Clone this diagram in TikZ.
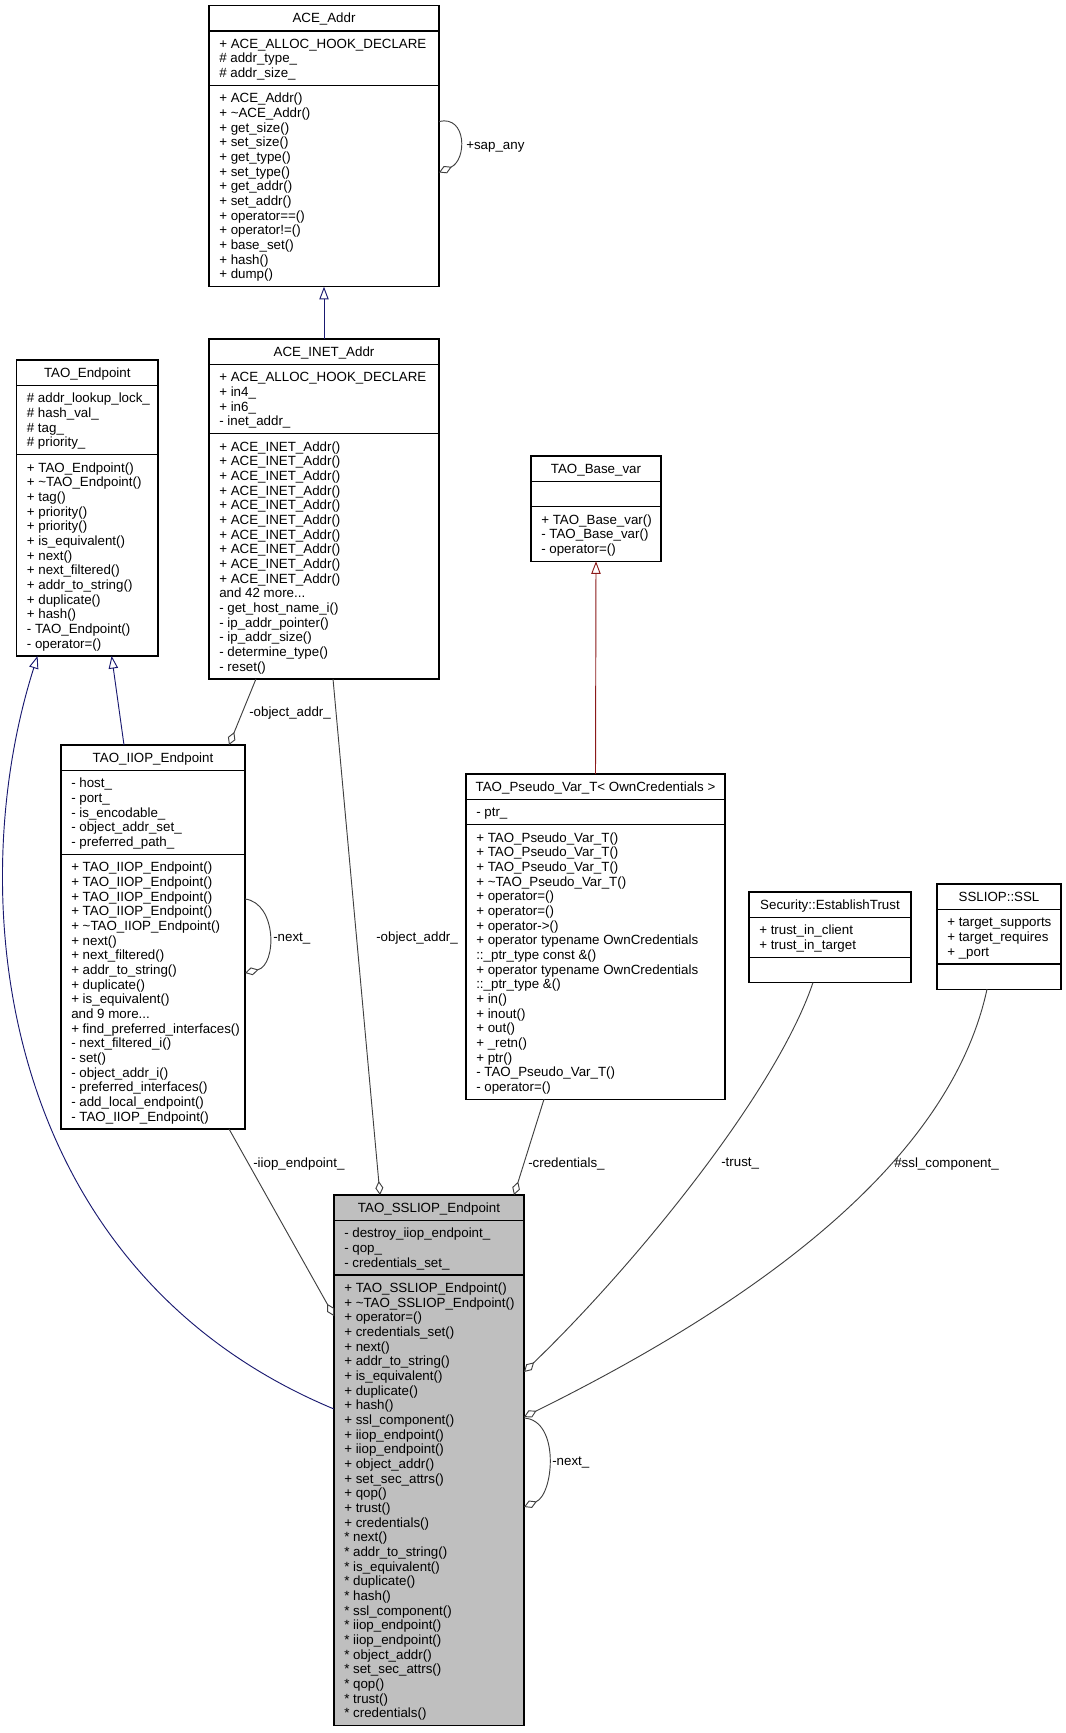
\documentclass[tikz,border=0pt]{standalone}
\usepackage{fontspec}
\setmainfont{Liberation Sans}
\usetikzlibrary{arrows.meta,calc,fit}

\definecolor{inhblue}{HTML}{191970}
\definecolor{privred}{HTML}{8B1A1A}
\definecolor{agggray}{HTML}{404040}
\definecolor{focusgray}{HTML}{BFBFBF}

\tikzset{
  cls/.style={draw=black, line width=1pt, fill=white, inner sep=0pt, outer sep=0pt},
  sep/.style={draw=black, line width=1pt},
  ctitle/.style={anchor=base, inner sep=0pt, font=\fontsize{10}{11}\selectfont},
  cmember/.style={anchor=north west, inner sep=0pt, align=left, font=\fontsize{10}{11}\selectfont},
  inh/.style={draw=inhblue, line width=0.7pt, -{Triangle[open, length=9.5pt, width=7pt]}},
  privinh/.style={inh, draw=privred},
  agg/.style={draw=agggray, line width=0.7pt, -{Diamond[open, length=10.5pt, width=6pt]}},
  elabel/.style={anchor=west, inner sep=0pt, font=\fontsize{10}{11}\selectfont}
}

% name, left, top, right, attr lines, method lines, title, attrs, methods
\newcommand{\classbox}[9]{%
  \pgfmathsetmacro{\cya}{#3+25.5}%
  \pgfmathsetmacro{\cyb}{\cya+#5*14.67+10.5}%
  \pgfmathsetmacro{\cyc}{\cyb+#6*14.67+10.5}%
  \node[cls, fit={(#2,#3) (#4,\cyc)}] (#1) {};
  \draw[sep] (#2,\cya) -- (#4,\cya);
  \draw[sep] (#2,\cyb) -- (#4,\cyb);
  \node[ctitle] (#1-t) at ({(#2+#4)/2},#3+17.5) {#7};
  \node[cmember] (#1-a) at (#2+10,\cya+6.8) {\strut#8};
  \node[cmember] (#1-m) at (#2+10,\cyb+6.8) {\strut#9};
}

\begin{document}
\begin{tikzpicture}[x=0.75pt, y=-0.75pt]
  \useasboundingbox (0,0) rectangle (1065,1733);

  \classbox{addr}{209}{5.5}{439}{3}{13}{ACE\_Addr}
    {+ ACE\_ALLOC\_HOOK\_DECLARE\\\# addr\_type\_\\\# addr\_size\_}
    {+ ACE\_Addr()\\+ \textasciitilde ACE\_Addr()\\+ get\_size()\\+ set\_size()\\+ get\_type()\\+ set\_type()\\+ get\_addr()\\+ set\_addr()\\+ operator==()\\+ operator!=()\\+ base\_set()\\+ hash()\\+ dump()}

  \classbox{ep}{16.6}{360}{158}{4}{13}{TAO\_Endpoint}
    {\# addr\_lookup\_lock\_\\\# hash\_val\_\\\# tag\_\\\# priority\_}
    {+ TAO\_Endpoint()\\+ \textasciitilde TAO\_Endpoint()\\+ tag()\\+ priority()\\+ priority()\\+ is\_equivalent()\\+ next()\\+ next\_filtered()\\+ addr\_to\_string()\\+ duplicate()\\+ hash()\\- TAO\_Endpoint()\\- operator=()}

  \classbox{inet}{209}{339}{439}{4}{16}{ACE\_INET\_Addr}
    {+ ACE\_ALLOC\_HOOK\_DECLARE\\+ in4\_\\+ in6\_\\- inet\_addr\_}
    {+ ACE\_INET\_Addr()\\+ ACE\_INET\_Addr()\\+ ACE\_INET\_Addr()\\+ ACE\_INET\_Addr()\\+ ACE\_INET\_Addr()\\+ ACE\_INET\_Addr()\\+ ACE\_INET\_Addr()\\+ ACE\_INET\_Addr()\\+ ACE\_INET\_Addr()\\+ ACE\_INET\_Addr()\\and 42 more...\\- get\_host\_name\_i()\\- ip\_addr\_pointer()\\- ip\_addr\_size()\\- determine\_type()\\- reset()}

  \classbox{basevar}{531}{456}{661}{1}{3}{TAO\_Base\_var}
    {}
    {+ TAO\_Base\_var()\\- TAO\_Base\_var()\\- operator=()}

  \classbox{iiop}{61}{745}{245}{5}{18}{TAO\_IIOP\_Endpoint}
    {- host\_\\- port\_\\- is\_encodable\_\\- object\_addr\_set\_\\- preferred\_path\_}
    {+ TAO\_IIOP\_Endpoint()\\+ TAO\_IIOP\_Endpoint()\\+ TAO\_IIOP\_Endpoint()\\+ TAO\_IIOP\_Endpoint()\\+ \textasciitilde TAO\_IIOP\_Endpoint()\\+ next()\\+ next\_filtered()\\+ addr\_to\_string()\\+ duplicate()\\+ is\_equivalent()\\and 9 more...\\+ find\_preferred\_interfaces()\\- next\_filtered\_i()\\- set()\\- object\_addr\_i()\\- preferred\_interfaces()\\- add\_local\_endpoint()\\- TAO\_IIOP\_Endpoint()}

  \classbox{pseudo}{466}{774}{725}{1}{18}{TAO\_Pseudo\_Var\_T< OwnCredentials >}
    {- ptr\_}
    {+ TAO\_Pseudo\_Var\_T()\\+ TAO\_Pseudo\_Var\_T()\\+ TAO\_Pseudo\_Var\_T()\\+ \textasciitilde TAO\_Pseudo\_Var\_T()\\+ operator=()\\+ operator=()\\+ operator->()\\+ operator typename OwnCredentials\\::\_ptr\_type const \&()\\+ operator typename OwnCredentials\\::\_ptr\_type \&()\\+ in()\\+ inout()\\+ out()\\+ \_retn()\\+ ptr()\\- TAO\_Pseudo\_Var\_T()\\- operator=()}

  \classbox{trust}{749}{892}{911}{2}{1}{Security::EstablishTrust}
    {+ trust\_in\_client\\+ trust\_in\_target}
    {}

  \classbox{ssl}{937}{884}{1061}{3}{1}{SSLIOP::SSL}
    {+ target\_supports\\+ target\_requires\\+ \_port}
    {}

  \begin{scope}[cls/.append style={fill=focusgray}]
  \classbox{sslep}{334}{1195}{524}{3}{30}{TAO\_SSLIOP\_Endpoint}
    {- destroy\_iiop\_endpoint\_\\- qop\_\\- credentials\_set\_}
    {+ TAO\_SSLIOP\_Endpoint()\\+ \textasciitilde TAO\_SSLIOP\_Endpoint()\\+ operator=()\\+ credentials\_set()\\+ next()\\+ addr\_to\_string()\\+ is\_equivalent()\\+ duplicate()\\+ hash()\\+ ssl\_component()\\+ iiop\_endpoint()\\+ iiop\_endpoint()\\+ object\_addr()\\+ set\_sec\_attrs()\\+ qop()\\+ trust()\\+ credentials()\\* next()\\* addr\_to\_string()\\* is\_equivalent()\\* duplicate()\\* hash()\\* ssl\_component()\\* iiop\_endpoint()\\* iiop\_endpoint()\\* object\_addr()\\* set\_sec\_attrs()\\* qop()\\* trust()\\* credentials()}
  \end{scope}

  % inheritance
  \draw[inh] (inet.north) -- (addr.south);
  \draw[inh] ($(iiop.north west)+(63,0)$) -- ($(ep.south west)+(95,0)$);
  \draw[inh] ($(sslep.north west)+(0,214)$) .. controls (0,1270) and (-40,900) .. ($(ep.south west)+(21,0)$);
  \draw[privinh] (pseudo.north) -- (basevar.south);

  % members
  \draw[agg] ($(addr.north east)+(0,116)$) .. controls (467,115) and (467,160) .. ($(addr.north east)+(0,167)$);
  \node[elabel] (lsap) at (466,147) {+sap\_any};

  \draw[agg] ($(inet.south west)+(47,0)$) -- ($(iiop.north west)+(168,0)$);
  \node[elabel] (lobj1) at (249,713) {-object\_addr\_};

  \draw[agg] ($(iiop.north east)+(0,154)$) .. controls (277,903) and (277,965) .. ($(iiop.north east)+(0,228)$);
  \node[elabel] (lnext1) at (273,939) {-next\_};

  \draw[agg] ($(inet.south west)+(124,0)$) -- ($(sslep.north west)+(46,0)$);
  \node[elabel] (lobj2) at (376,938) {-object\_addr\_};

  \draw[agg] ($(iiop.south west)+(168,0)$) -- ($(sslep.north west)+(0,121)$);
  \node[elabel] (liiop) at (253,1164) {-iiop\_endpoint\_};

  \draw[agg] ($(pseudo.south west)+(78,0)$) -- ($(sslep.north east)+(-10,0)$);
  \node[elabel] (lcred) at (528,1164) {-credentials\_};

  \draw[agg] ($(trust.south west)+(64,0)$) .. controls (775,1095) and (630,1270) .. ($(sslep.north east)+(0,177)$);
  \node[elabel] (ltrust) at (721,1164) {-trust\_};

  \draw[agg] ($(ssl.south west)+(50,0)$) .. controls (948,1170) and (740,1310) .. ($(sslep.north east)+(0,222)$);
  \node[elabel] (lsslc) at (894,1164) {\#ssl\_component\_};

  \draw[agg] ($(sslep.north east)+(0,223)$) .. controls (560,1420) and (554,1494) .. ($(sslep.north east)+(0,312)$);
  \node[elabel] (lnext2) at (552,1462) {-next\_};
\end{tikzpicture}
\end{document}
